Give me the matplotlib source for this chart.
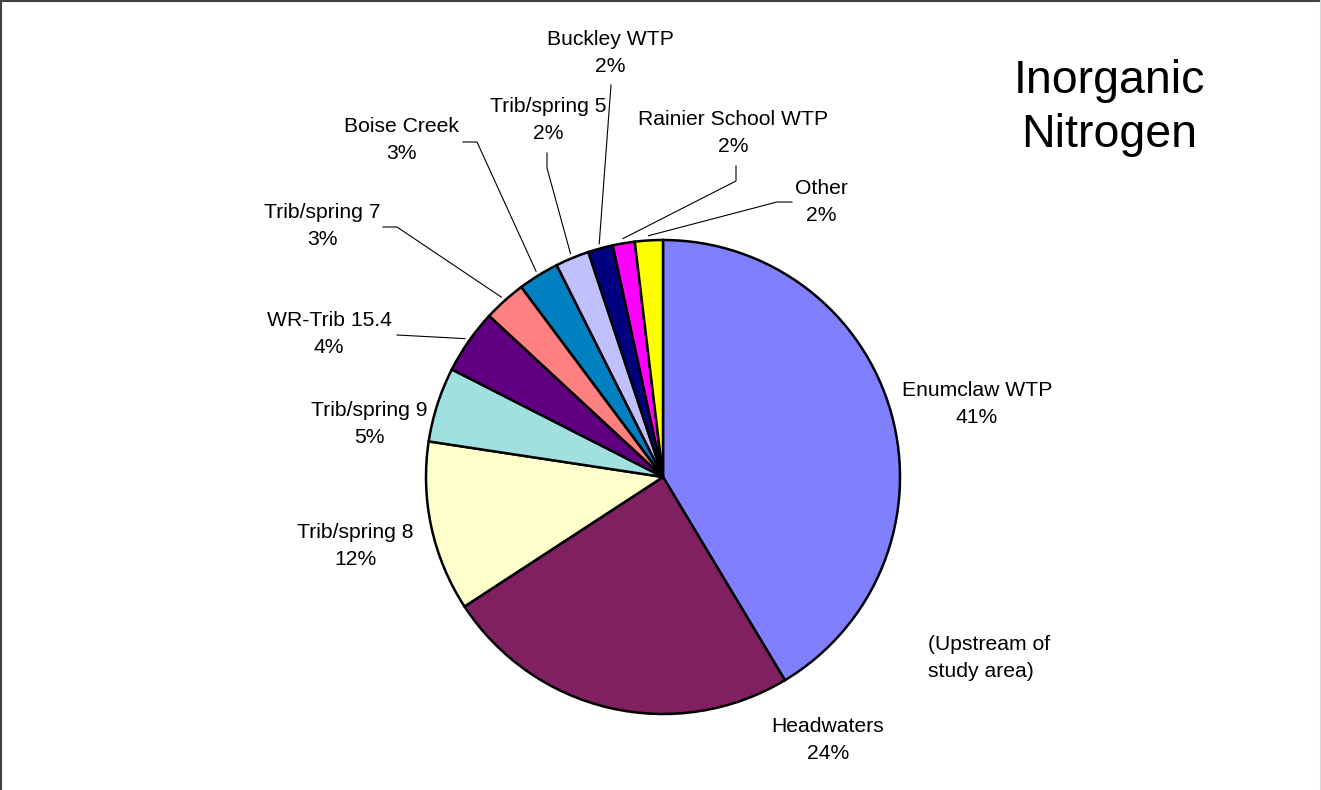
import numpy as np
import matplotlib.pyplot as plt
from matplotlib.lines import Line2D

# Inorganic nitrogen load shares, percent
sources = ['Enumclaw WTP', 'Headwaters', 'Trib/spring 8', 'Trib/spring 9',
           'WR-Trib 15.4', 'Trib/spring 7', 'Boise Creek', 'Trib/spring 5',
           'Buckley WTP', 'Rainier School WTP', 'Other']
shares = [41.4, 24.4, 11.6, 5.1, 4.4, 2.9, 2.8, 2.3, 1.7, 1.5, 1.9]
colors = ['#8080FF', '#802060', '#FFFFCC', '#A0E0E0', '#600080', '#FF8080',
          '#0080C0', '#C0C0FF', '#000080', '#FF00FF', '#FFFF00']

W, H = 1321, 790
CX, CY, R = 663, 477, 237

# label block centres (pixels from top-left)
label_pos = [(977, 404), (828, 740), (355, 546), (369, 424), (329, 334),
             (322, 226), (401, 140), (548, 120), (610, 53), (733, 133), (821, 202)]
# leader line start / elbow (None = no leader)
leaders = [None, None, None, None,
           [(397, 335)],
           [(383, 227), (397, 227)],
           [(463, 142), (477, 142)],
           [(547, 153), (547, 168)],
           [(611, 85)],
           [(736, 166), (736, 181)],
           [(792, 202), (777, 202)]]


def fy(y):
    return H - y


fig = plt.figure(figsize=(W / 100, H / 100), dpi=100)
ax = fig.add_axes([0, 0, 1, 1])
ax.pie(shares, colors=colors, startangle=90, counterclock=False,
       center=(CX, fy(CY)), radius=R,
       wedgeprops=dict(edgecolor='black', linewidth=1.8))
ax.set_xlim(0, W)
ax.set_ylim(0, H)
ax.axis('off')

font = 'Liberation Sans'
total = sum(shares)
start = 0.0
for name, v, (lx, ly), lead in zip(sources, shares, label_pos, leaders):
    ax.text(lx, fy(ly), f"{name}\n{round(v / total * 100):.0f}%",
            ha='center', va='center', fontsize=15.2, family=font,
            linespacing=1.55)
    mid = (start + v / 2) / total * 2 * np.pi
    start += v
    if lead is None:
        continue
    ex = CX + 1.02 * R * np.sin(mid)
    ey = CY - 1.02 * R * np.cos(mid)
    pts = lead + [(ex, ey)]
    ax.plot([p[0] for p in pts], [fy(p[1]) for p in pts], color='black',
            linewidth=0.8)

ax.text(928, fy(658), "(Upstream of\nstudy area)", ha='left', va='center',
        fontsize=15.2, family=font, linespacing=1.55)
ax.text(1109, fy(108), "Inorganic\nNitrogen", ha='center', va='center',
        fontsize=33.5, family=font, linespacing=1.28)

# thin frame on the top and left edges
fig.add_artist(Line2D([0, 1], [0.999, 0.999], color='#404040', linewidth=1.5))
fig.add_artist(Line2D([0.001, 0.001], [0, 1], color='#404040', linewidth=1.5))
fig.add_artist(Line2D([0.9995, 0.9995], [0, 1], color='#d8d8d8', linewidth=0.8))

fig.savefig('out.png', dpi=100)
